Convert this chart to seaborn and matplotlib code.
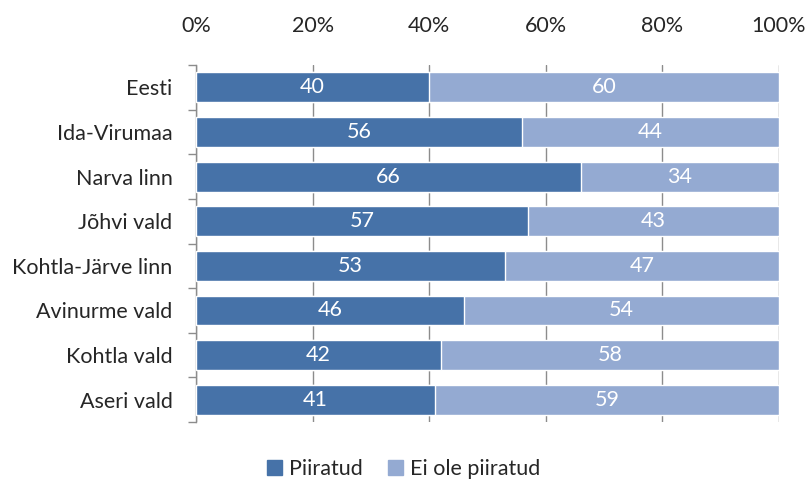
import numpy as np
import pandas as pd
import matplotlib.pyplot as plt
import seaborn as sns
from matplotlib.patches import Patch
from matplotlib.ticker import FixedLocator, PercentFormatter

sns.set_style("white")
plt.rcParams["font.family"] = ["Lato", "DejaVu Sans"]

# andmed
regioonid = ["Eesti", "Ida-Virumaa", "Narva linn", "Jõhvi vald",
             "Kohtla-Järve linn", "Avinurme vald", "Kohtla vald", "Aseri vald"]
piiratud = [40, 56, 66, 57, 53, 46, 42, 41]
ei_ole = [60, 44, 34, 43, 47, 54, 58, 59]

dark = "#4672A8"
light = "#94AAD2"
fs = 15.5

df = pd.DataFrame({"regioon": regioonid, "piiratud": piiratud, "ei_ole": ei_ole})
df["kokku"] = df["piiratud"] + df["ei_ole"]

fig = plt.figure(figsize=(8.07, 4.84), dpi=100)
ax = fig.add_axes([0.2429, 0.128, 0.7224, 0.7377])

sns.barplot(data=df, x="kokku", y="regioon", color=light, width=0.67,
            saturation=1, ax=ax, zorder=2)
sns.barplot(data=df, x="piiratud", y="regioon", color=dark, width=0.67,
            saturation=1, ax=ax, zorder=3)

for i, (p, e) in enumerate(zip(piiratud, ei_ole)):
    ax.text(p / 2, i, str(p), ha="center", va="center", color="white",
            fontsize=fs, zorder=4)
    ax.text(p + e / 2, i, str(e), ha="center", va="center", color="white",
            fontsize=fs, zorder=4)

ax.set_xlim(0, 100)
ax.set_ylim(len(regioonid) - 0.5, -0.5)
ax.xaxis.set_major_locator(FixedLocator([0, 20, 40, 60, 80, 100]))
ax.xaxis.set_major_formatter(PercentFormatter(decimals=0))
ax.xaxis.tick_top()
ax.tick_params(axis="x", length=0, pad=21, labelsize=fs)
ax.xaxis.grid(True, color="#8c8c8c", linewidth=1)
ax.set_axisbelow(True)

ax.yaxis.set_minor_locator(FixedLocator(np.arange(-0.5, len(regioonid), 1)))
ax.tick_params(axis="y", which="major", length=0, pad=17, labelsize=fs)
ax.tick_params(axis="y", which="minor", length=6, color="#8c8c8c", width=1,
               left=True)
ax.set_xlabel("")
ax.set_ylabel("")

for s in ["top", "right", "bottom"]:
    ax.spines[s].set_visible(False)
ax.spines["left"].set_color("#8c8c8c")
ax.spines["left"].set_linewidth(1)

handles = [Patch(color=dark, label="Piiratud"), Patch(color=light, label="Ei ole piiratud")]
fig.legend(handles=handles, loc="center", bbox_to_anchor=(0.5, 0.03), ncol=2,
           frameon=False, fontsize=fs, handlelength=0.7, handleheight=0.7,
           handletextpad=0.3, columnspacing=1.2)

fig.savefig("out.png", dpi=100)
